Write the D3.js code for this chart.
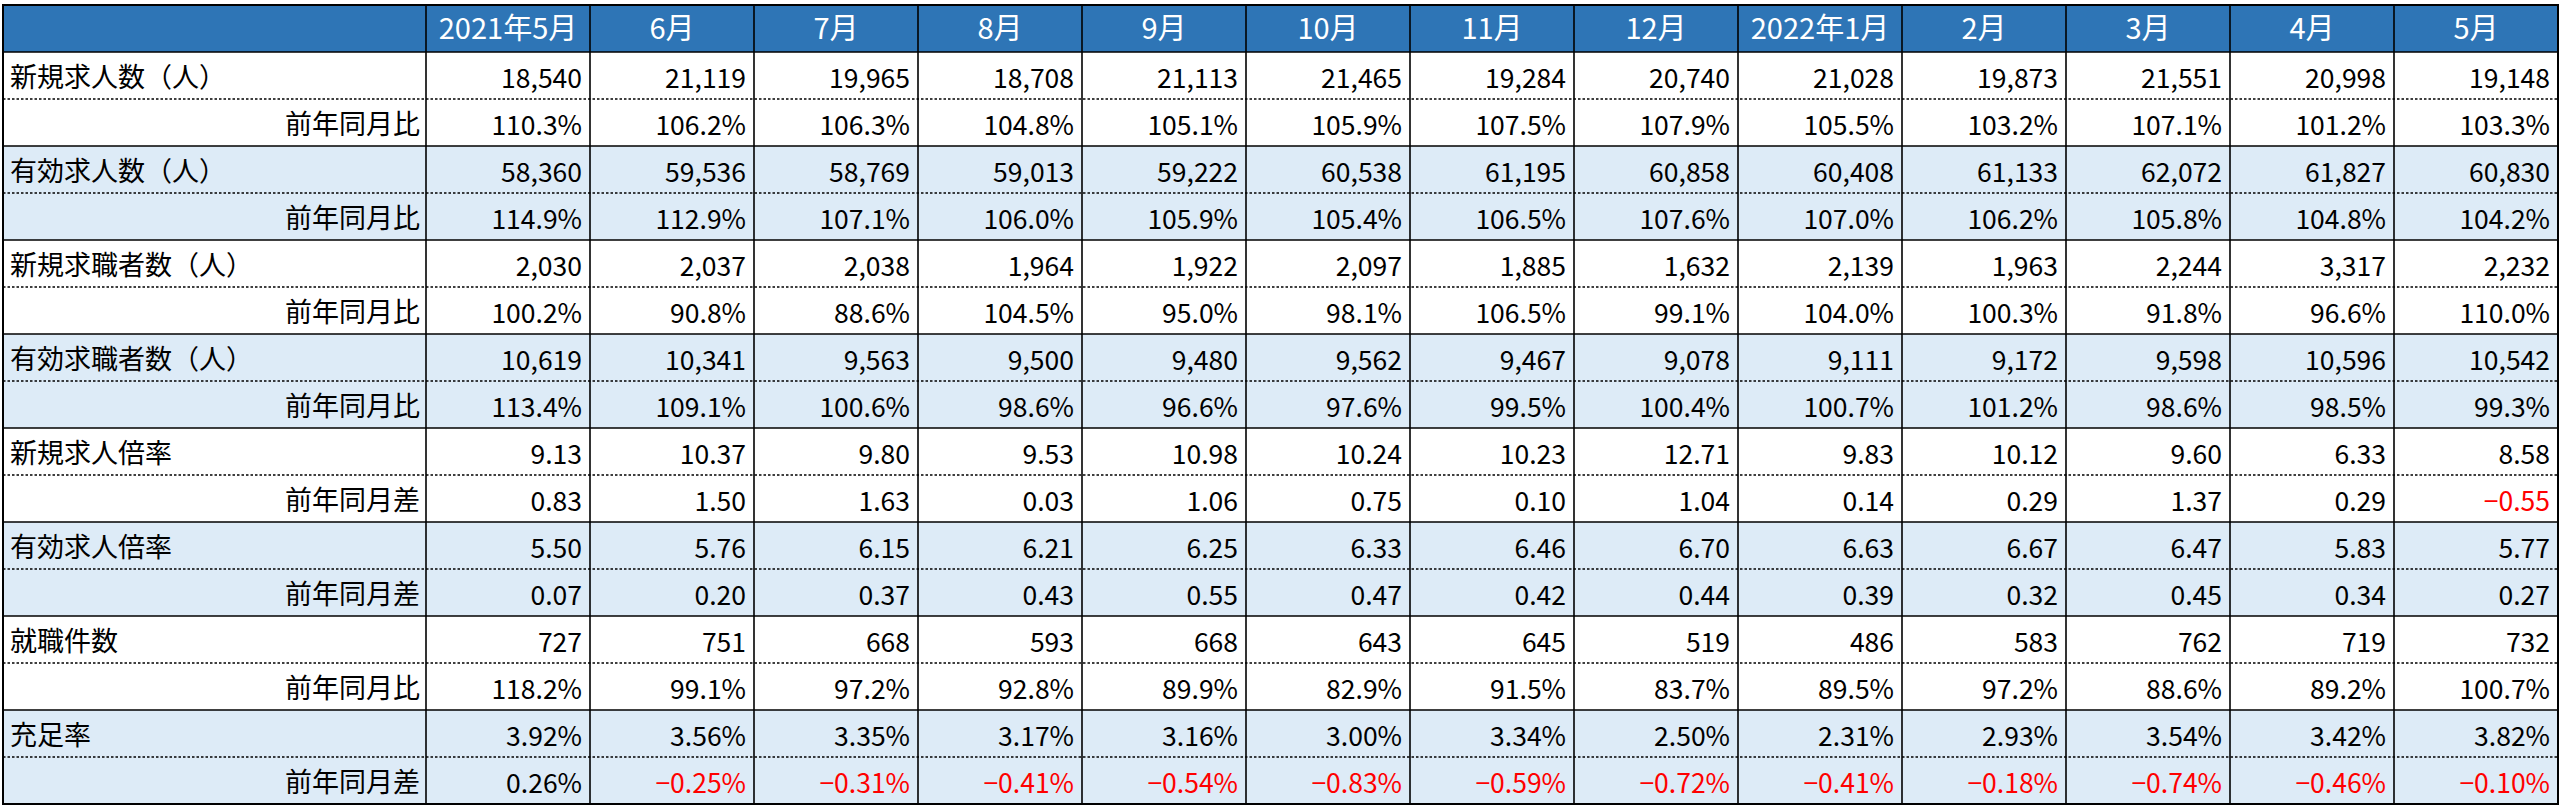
<!DOCTYPE html>
<html><head><meta charset="utf-8">
<script src="https://cdn.jsdelivr.net/npm/d3@7"></script>
<style>
html,body{margin:0;padding:0;background:#fff;}
svg{display:block;}
text{font-family:"Noto Sans CJK JP","Noto Sans",sans-serif;}
</style></head>
<body>
<svg id="chart" width="2562" height="809"></svg>
<script>
const months = ["2021年5月","6月","7月","8月","9月","10月","11月","12月","2022年1月","2月","3月","4月","5月"];
const rowLabels = ["新規求人数（人）","前年同月比","有効求人数（人）","前年同月比","新規求職者数（人）","前年同月比","有効求職者数（人）","前年同月比","新規求人倍率","前年同月差","有効求人倍率","前年同月差","就職件数","前年同月比","充足率","前年同月差"];
const rowFormats = ["int","pct1","int","pct1","int","pct1","int","pct1","dec2","dec2","dec2","dec2","int","pct1","pct2","pct2"];

const newOpenings      = [18540,21119,19965,18708,21113,21465,19284,20740,21028,19873,21551,20998,19148];
const newOpeningsYoY   = [110.3,106.2,106.3,104.8,105.1,105.9,107.5,107.9,105.5,103.2,107.1,101.2,103.3];
const activeOpenings   = [58360,59536,58769,59013,59222,60538,61195,60858,60408,61133,62072,61827,60830];
const activeOpeningsYoY= [114.9,112.9,107.1,106.0,105.9,105.4,106.5,107.6,107.0,106.2,105.8,104.8,104.2];
const newSeekers       = [2030,2037,2038,1964,1922,2097,1885,1632,2139,1963,2244,3317,2232];
const newSeekersYoY    = [100.2,90.8,88.6,104.5,95.0,98.1,106.5,99.1,104.0,100.3,91.8,96.6,110.0];
const activeSeekers    = [10619,10341,9563,9500,9480,9562,9467,9078,9111,9172,9598,10596,10542];
const activeSeekersYoY = [113.4,109.1,100.6,98.6,96.6,97.6,99.5,100.4,100.7,101.2,98.6,98.5,99.3];
const newRatio         = [9.13,10.37,9.80,9.53,10.98,10.24,10.23,12.71,9.83,10.12,9.60,6.33,8.58];
const newRatioDiff     = [0.83,1.50,1.63,0.03,1.06,0.75,0.10,1.04,0.14,0.29,1.37,0.29,-0.55];
const activeRatio      = [5.50,5.76,6.15,6.21,6.25,6.33,6.46,6.70,6.63,6.67,6.47,5.83,5.77];
const activeRatioDiff  = [0.07,0.20,0.37,0.43,0.55,0.47,0.42,0.44,0.39,0.32,0.45,0.34,0.27];
const placements       = [727,751,668,593,668,643,645,519,486,583,762,719,732];
const placementsYoY    = [118.2,99.1,97.2,92.8,89.9,82.9,91.5,83.7,89.5,97.2,88.6,89.2,100.7];
const fillRate         = [3.92,3.56,3.35,3.17,3.16,3.00,3.34,2.50,2.31,2.93,3.54,3.42,3.82];
const fillRateDiff     = [0.26,-0.25,-0.31,-0.41,-0.54,-0.83,-0.59,-0.72,-0.41,-0.18,-0.74,-0.46,-0.10];

const rowValues = [newOpenings,newOpeningsYoY,activeOpenings,activeOpeningsYoY,newSeekers,newSeekersYoY,activeSeekers,activeSeekersYoY,newRatio,newRatioDiff,activeRatio,activeRatioDiff,placements,placementsYoY,fillRate,fillRateDiff];

(function(){
const svg = d3.select("#chart");
const L = 3, labelRight = 426, R = 2558, T = 5, B = 804;
const rowIdx = d3.range(rowLabels.length + 1); // 0 = header
const y = d3.scaleBand().domain(rowIdx).range([T, B]);
const x = d3.scaleBand().domain(months).range([labelRight, R]);
const rh = y.bandwidth();

const headerFill = "#2E75B6", blueFill = "#DDEBF7";

function fmt(v, f){
  const neg = v < 0, a = Math.abs(v);
  let s;
  if (f === "int") s = d3.format(",")(a);
  else if (f === "pct1") s = d3.format(".1f")(a) + "%";
  else if (f === "pct2") s = d3.format(".2f")(a) + "%";
  else s = d3.format(".2f")(a);
  return (neg ? "−" : "") + s;
}

svg.append("rect").attr("x", L).attr("y", y(0)).attr("width", R-L).attr("height", rh).attr("fill", headerFill);
rowLabels.forEach((l,i)=>{
  const grp = Math.floor(i/2);
  svg.append("rect").attr("x", L).attr("y", y(i+1)).attr("width", R-L).attr("height", rh)
    .attr("fill", grp % 2 === 1 ? blueFill : "#ffffff");
});

svg.selectAll("text.hdr").data(months).join("text").attr("class","hdr")
  .attr("x", d => x(d) + x.bandwidth()/2).attr("y", y(0) + rh/2 + 10.5)
  .attr("text-anchor","middle").attr("font-size", 29).attr("fill","#ffffff").text(d=>d);

rowLabels.forEach((l,i)=>{
  const sub = i % 2 === 1;
  svg.append("text")
    .attr("x", sub ? labelRight - 6 : L + 7)
    .attr("y", y(i+1) + rh/2 + 11.5)
    .attr("text-anchor", sub ? "end" : "start")
    .attr("font-size", 27).attr("fill","#000").text(l);
  rowValues[i].forEach((v,j)=>{
    svg.append("text")
      .attr("x", x(months[j]) + x.bandwidth() - 8)
      .attr("y", y(i+1) + rh/2 + 12)
      .attr("text-anchor","end").attr("font-size", 26.5)
      .attr("fill", v < 0 ? "#FF0000" : "#000").text(fmt(v, rowFormats[i]));
  });
});

for (let i = 1; i <= rowLabels.length; i++){
  const yy = y(i);
  const dotted = (i >= 2) && ((i-1) % 2 === 1);
  svg.append("line").attr("x1", L).attr("x2", R).attr("y1", yy).attr("y2", yy)
    .attr("stroke", "#000").attr("stroke-width", dotted ? 1.3 : 1.6)
    .attr("stroke-dasharray", dotted ? "2.5,2" : null);
}
[labelRight, ...months.map(m => x(m) + x.bandwidth())].forEach(xx=>{
  svg.append("line").attr("x1", xx).attr("x2", xx).attr("y1", T).attr("y2", B)
    .attr("stroke","#000").attr("stroke-width",1.6);
});
svg.append("rect").attr("x", L).attr("y", T).attr("width", R-L).attr("height", B-T)
  .attr("fill","none").attr("stroke","#000").attr("stroke-width",2);
})();
</script>
</body></html>
